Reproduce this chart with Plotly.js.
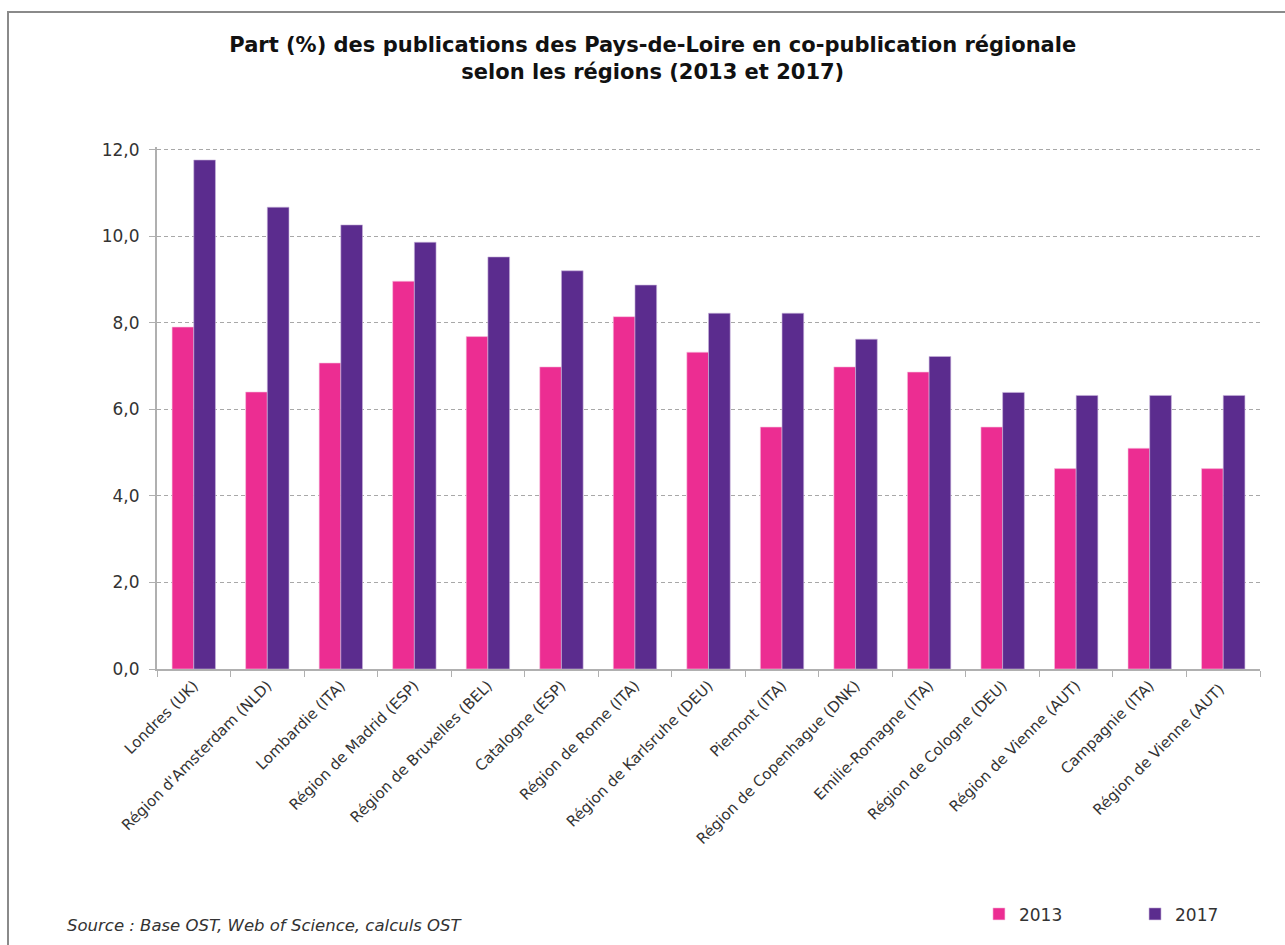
<!DOCTYPE html>
<html>
<head>
<meta charset="utf-8">
<script src="https://cdn.plot.ly/plotly-3.0.1.min.js"></script>
<style>
  html, body { margin: 0; padding: 0; background: #fff; }
  #wrap { position: relative; width: 1285px; height: 945px; overflow: hidden; }
  #chart { width: 1285px; height: 945px; }
  #frame { position: absolute; left: 7px; top: 11px; width: 1290px; height: 960px;
           border-left: 2px solid #8a8a8a; border-top: 2px solid #8a8a8a; pointer-events: none; }
</style>
</head>
<body>
<div id="wrap">
  <div id="chart"></div>
  <div id="frame"></div>
</div>
<script>
const categories = [
  "Londres (UK)", "Région d'Amsterdam (NLD)", "Lombardie (ITA)", "Région de Madrid (ESP)",
  "Région de Bruxelles (BEL)", "Catalogne (ESP)", "Région de Rome (ITA)", "Région de Karlsruhe (DEU)",
  "Piemont (ITA)", "Région de Copenhague (DNK)", "Emilie-Romagne (ITA)", "Région de Cologne (DEU)",
  "Région de Vienne (AUT)", "Campagnie (ITA)", "Région de Vienne (AUT) "
];
const values2013 = [7.90, 6.40, 7.07, 8.96, 7.68, 6.98, 8.14, 7.32, 5.59, 6.98, 6.86, 5.59, 4.63, 5.10, 4.63];
const values2017 = [11.76, 10.67, 10.26, 9.86, 9.52, 9.20, 8.87, 8.22, 8.22, 7.62, 7.22, 6.39, 6.32, 6.32, 6.32];
const seriesNames = ["2013", "2017"];
const yTicks = [0, 2, 4, 6, 8, 10, 12];

const FONT = "'DejaVu Sans', 'Open Sans', sans-serif";

const traces = [
  { type: "bar", name: seriesNames[0], x: categories, y: values2013, legend: "legend",
    marker: { color: "#EC2D92", line: { color: "#f6c6e0", width: 0.6 } } },
  { type: "bar", name: seriesNames[1], x: categories, y: values2017, legend: "legend2",
    marker: { color: "#5B2C8E", line: { color: "#c9b6dc", width: 0.6 } } }
];

const legendCommon = {
  orientation: "h", xanchor: "left", yanchor: "middle",
  font: { family: FONT, size: 17, color: "#333333" },
  bgcolor: "rgba(0,0,0,0)"
};

const layout = {
  width: 1285, height: 945,
  margin: { l: 157, r: 25, t: 147, b: 276 },
  paper_bgcolor: "#ffffff", plot_bgcolor: "#ffffff",
  separators: ", ",
  font: { family: FONT, color: "#333333", size: 15 },
  title: {
    text: "<b>Part (%) des publications des Pays-de-Loire en co-publication régionale<br>selon les régions (2013 et 2017)</b>",
    font: { family: FONT, size: 21, color: "#111111" },
    x: 0.508, xanchor: "center", yref: "container", y: 0.945, yanchor: "top"
  },
  barmode: "group",
  bargap: 0.41,
  bargroupgap: 0,
  xaxis: {
    type: "category",
    tickangle: -45,
    tickson: "boundaries",
    ticks: "outside", ticklen: 6, tickcolor: "#b0b0b0", tickwidth: 1,
    showline: true, linecolor: "#b0b0b0", linewidth: 2,
    showgrid: false,
    tickfont: { family: FONT, size: 15, color: "#333333" }
  },
  yaxis: {
    range: [0, 12.06],
    tickvals: yTicks,
    tickformat: ".1f",
    ticks: "outside", ticklen: 6, tickcolor: "#b0b0b0",
    ticklabelstandoff: 6,
    showline: true, linecolor: "#b0b0b0", linewidth: 2,
    showgrid: true, gridcolor: "#a8a8a8", griddash: "4px,3px", gridwidth: 1,
    zeroline: false,
    tickfont: { family: FONT, size: 17, color: "#333333" }
  },
  showlegend: true,
  legend: Object.assign({}, legendCommon, { x: 0.7452, y: -0.470 }),
  legend2: Object.assign({}, legendCommon, { x: 0.8867, y: -0.470 }),
  annotations: [{
    text: "<i>Source : Base OST, Web of Science, calculs OST</i>",
    xref: "paper", yref: "paper",
    x: (65 - 157) / 1103, xanchor: "left",
    y: (669 - 925) / 522, yanchor: "middle",
    showarrow: false,
    font: { family: FONT, size: 16.5, color: "#333333" }
  }]
};

Plotly.newPlot("chart", traces, layout, { displayModeBar: false, staticPlot: true });
</script>
</body>
</html>
